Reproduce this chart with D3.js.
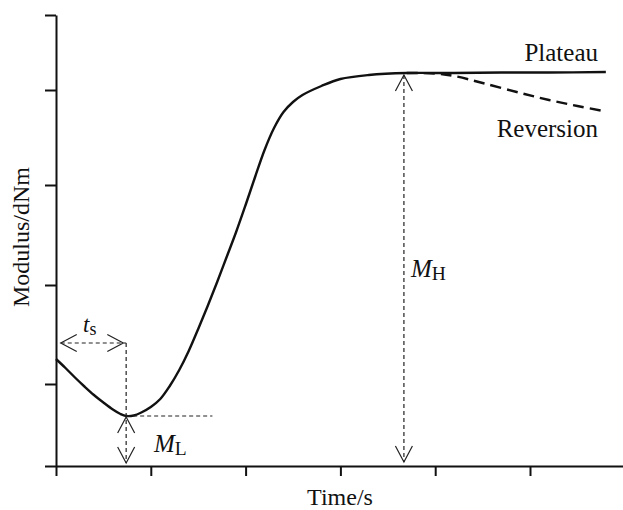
<!DOCTYPE html>
<html>
<head>
<meta charset="utf-8">
<script src="https://cdn.jsdelivr.net/npm/d3@7"></script>
<style>
  body { margin: 0; background: #fff; }
  svg { display: block; }
</style>
</head>
<body>
<div id="chart"></div>
<script>
// cure curve (time in tick units, modulus in arbitrary units)
const cureTime = [0, 0.1, 0.2, 0.3, 0.4, 0.5, 0.6, 0.68, 0.74, 0.82, 0.9, 1.0, 1.1, 1.2, 1.3, 1.4, 1.5, 1.6, 1.7, 1.8, 1.9,
                  2.0, 2.1, 2.2, 2.3, 2.4, 2.5, 2.6, 2.8, 3.0, 3.3, 3.7, 4.2, 4.7, 5.2, 5.8];
const cureModulus = [1.07, 0.98, 0.885, 0.795, 0.71, 0.635, 0.565, 0.52, 0.50, 0.505, 0.535, 0.59, 0.67, 0.80, 0.96, 1.15, 1.37, 1.60, 1.84, 2.09, 2.34,
                     2.61, 2.89, 3.16, 3.38, 3.54, 3.64, 3.71, 3.80, 3.87, 3.91, 3.93, 3.93, 3.935, 3.935, 3.94];

const reversionTime = [3.7, 4.0, 4.2, 4.5, 4.9, 5.2, 5.5, 5.8];
const reversionModulus = [3.93, 3.925, 3.90, 3.83, 3.73, 3.66, 3.60, 3.545];

const xTicks = [0, 1, 2, 3, 4, 5];
const yTicks = [0, 0.82, 1.81, 2.81, 3.76, 4.51];

// annotation anchors (data units)
const tsArrow = { y: 1.23, x0: 0.05, x1: 0.71 };
const minPoint = { x: 0.74, y: 0.50, bottom: 0.03, dashEnd: 1.65 };
const maxPoint = { x: 3.67, y: 3.91, bottom: 0.04 };

const width = 623, height = 510;
const serif = "'Liberation Serif', 'Times New Roman', Times, 'DejaVu Serif', serif";
const x = d3.scaleLinear().domain([0, 6.2]).range([56, 56 + 94.8 * 6.2]);
const y = d3.scaleLinear().domain([0, 4.51]).range([466, 15]);

const svg = d3.select("#chart").append("svg")
    .attr("width", width)
    .attr("height", height);

// axes
const xAxis = svg.append("g")
    .attr("transform", "translate(0," + y(0) + ")")
    .call(d3.axisBottom(x).tickValues(xTicks).tickSize(10).tickSizeOuter(0).tickFormat(""));
const yAxis = svg.append("g")
    .attr("transform", "translate(" + x(0) + ",0)")
    .call(d3.axisLeft(y).tickValues(yTicks).tickSize(11).tickSizeOuter(0).tickFormat(""));
[xAxis, yAxis].forEach(a => {
    a.select(".domain").attr("stroke", "#111").attr("stroke-width", 2);
    a.selectAll(".tick line").attr("stroke", "#111").attr("stroke-width", 2);
});

// curves
const line = d3.line()
    .x(d => x(d[0]))
    .y(d => y(d[1]))
    .curve(d3.curveCatmullRom.alpha(0.5));

svg.append("path")
    .datum(d3.zip(reversionTime, reversionModulus))
    .attr("d", line)
    .attr("fill", "none")
    .attr("stroke", "#111")
    .attr("stroke-width", 2.4)
    .attr("stroke-dasharray", "11,6");

svg.append("path")
    .datum(d3.zip(cureTime, cureModulus))
    .attr("d", line)
    .attr("fill", "none")
    .attr("stroke", "#111")
    .attr("stroke-width", 2.4);

// dashed guide lines and open arrow heads
const guides = svg.append("g")
    .attr("stroke", "#222")
    .attr("stroke-width", 1.2)
    .attr("fill", "none");

function dashed(x1, y1, x2, y2) {
    guides.append("line")
        .attr("x1", x(x1)).attr("y1", y(y1))
        .attr("x2", x(x2)).attr("y2", y(y2))
        .attr("stroke-dasharray", "4,3");
}

function head(px, py, dir) {
    // dir: "left", "right", "up", "down"
    const len = 16, half = 8.5;
    let pts;
    if (dir == "left") pts = [[px + len, py - half], [px, py], [px + len, py + half]];
    if (dir == "right") pts = [[px - len, py - half], [px, py], [px - len, py + half]];
    if (dir == "up") pts = [[px - half, py + len], [px, py], [px + half, py + len]];
    if (dir == "down") pts = [[px - half, py - len], [px, py], [px + half, py - len]];
    guides.append("polyline")
        .attr("points", pts.map(p => p.join(",")).join(" "));
}

// t_s
dashed(tsArrow.x0, tsArrow.y, minPoint.x, tsArrow.y);
head(x(tsArrow.x0), y(tsArrow.y), "left");
head(x(tsArrow.x1), y(tsArrow.y), "right");
dashed(minPoint.x, tsArrow.y, minPoint.x, minPoint.bottom);

// M_L
dashed(minPoint.x, minPoint.y, minPoint.dashEnd, minPoint.y);
head(x(minPoint.x), y(minPoint.y) + 1, "up");
head(x(minPoint.x), y(minPoint.bottom), "down");

// M_H
dashed(maxPoint.x, maxPoint.y, maxPoint.x, maxPoint.bottom);
head(x(maxPoint.x), y(maxPoint.y), "up");
head(x(maxPoint.x), y(maxPoint.bottom), "down");

// labels
function label(px, py, txt, size, anchor) {
    return svg.append("text")
        .attr("x", px).attr("y", py)
        .attr("text-anchor", anchor || "start")
        .attr("font-family", serif)
        .attr("font-size", size)
        .attr("fill", "#111")
        .text(txt);
}

function symbol(px, py, main, sub, size) {
    const t = label(px, py, "", size);
    t.append("tspan").text(main).attr("font-style", "italic");
    t.append("tspan").text(sub).attr("dy", 3).attr("font-size", size * 0.78);
}

symbol(83, 332, "t", "s", 23);
symbol(154, 452, "M", "L", 25);
symbol(411, 277, "M", "H", 25);

label(598, 61, "Plateau", 25, "end");
label(598, 137, "Reversion", 25, "end");
label(340, 505, "Time/s", 24, "middle");
label(0, 0, "Modulus/dNm", 24, "middle")
    .attr("transform", "translate(29,237) rotate(-90)");
</script>
</body>
</html>
